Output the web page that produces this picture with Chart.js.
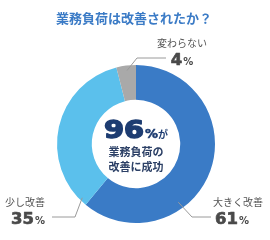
<!DOCTYPE html>
<html>
<head>
<meta charset="utf-8">
<script src="https://cdn.jsdelivr.net/npm/chart.js@4"></script>
<style>
  html, body { margin: 0; padding: 0; background: #fff; }
  #wrap { width: 270px; height: 240px; }
</style>
</head>
<body>
<div id="wrap"><canvas id="donut" width="270" height="240"></canvas></div>
<script>
    // chart data
    const titleText = '業務負荷は改善されたか？';
    const categories = ['大きく改善', '少し改善', '変わらない'];
    const shares = [61, 35, 4];
    const sliceColors = ['#3a7bc6', '#5bc0ec', '#a9a9a9'];
    const centerValue = '96';
    const centerLines = ['業務負荷の', '改善に成功'];

    const jp = '"Noto Sans CJK JP", "Noto Sans", sans-serif';
    const num = '"DejaVu Sans", Lato, sans-serif';

    // where each label sits, relative to the donut centre
    const labelSpots = [
        { tx: 77, ty: 58, align: 'left', anchorA: 144, anchorR: 72, elbow: [56, 73], end: [75, 73] },
        { tx: -91, ty: 58, align: 'right', anchorA: 225, anchorR: 76, elbow: [-61, 73], end: [-84, 73] },
        { tx: 46, ty: -101, align: 'center', anchorA: -7, anchorR: 74, elbow: [1, -86], end: [30, -86] }
    ];

    // text drawn a bit wider/heavier than the font, like the rounded digits of the original
    function wideWidth(c, text, font, sx) {
        c.font = font;
        return c.measureText(text).width * sx;
    }
    function drawWide(c, text, x, y, font, sx, heavy) {
        c.save();
        c.font = font;
        c.translate(x, y);
        c.scale(sx, 1);
        c.fillText(text, 0, 0);
        if (heavy) {
            c.strokeStyle = c.fillStyle;
            c.lineWidth = heavy;
            c.lineJoin = 'round';
            c.strokeText(text, 0, 0);
        }
        c.restore();
    }

    const labelPlugin = {
        id: 'calloutLabels',
        afterDraw(chart) {
            const c = chart.ctx;
            const arc = chart.getDatasetMeta(0).data[0];
            const cx = arc.x, cy = arc.y;

            // title
            c.save();
            c.fillStyle = '#3b7bc6';
            c.font = 'bold 13px ' + jp;
            c.textAlign = 'center';
            c.textBaseline = 'middle';
            c.fillText(titleText, 134, 18);

            // leader lines + labels
            labelSpots.forEach((s, i) => {
                const a = s.anchorA * Math.PI / 180;
                c.strokeStyle = '#9a9a9a';
                c.lineWidth = 1;
                c.beginPath();
                c.moveTo(cx + s.anchorR * Math.sin(a), cy - s.anchorR * Math.cos(a));
                c.lineTo(cx + s.elbow[0], cy + s.elbow[1]);
                c.lineTo(cx + s.end[0], cy + s.end[1]);
                c.stroke();

                const x = cx + s.tx, y = cy + s.ty;
                c.fillStyle = '#555';
                c.font = '10px ' + jp;
                c.textBaseline = 'middle';
                c.textAlign = s.align;
                c.fillText(categories[i], x, y);

                // value: big number + small %
                const big = String(shares[i]);
                const fBig = 'bold 15px ' + num;
                const fPct = 'bold 10px ' + num;
                const wb = wideWidth(c, big, fBig, 1.1);
                const wp = wideWidth(c, '%', fPct, 1);
                const w = wb + wp + 1;
                let x0 = x;
                if (s.align === 'center') x0 = x - w / 2;
                if (s.align === 'right') x0 = x - w;
                if (s.align === 'left') x0 = x + 2;
                c.textAlign = 'left';
                c.textBaseline = 'alphabetic';
                c.fillStyle = '#4a4a4a';
                drawWide(c, big, x0, y + 22, fBig, 1.1, 0.6);
                drawWide(c, '%', x0 + wb + 1, y + 22, fPct, 1);
            });

            // centre text
            c.fillStyle = '#1e3d72';
            c.textAlign = 'left';
            c.textBaseline = 'alphabetic';
            const f96 = 'bold 24px ' + num;
            const fP = 'bold 13px ' + num;
            const fGa = 'bold 10px ' + jp;
            const w96 = wideWidth(c, centerValue, f96, 1.2);
            const wPct = wideWidth(c, '%', fP, 1);
            const wGa = wideWidth(c, 'が', fGa, 1);
            let x = cx - (w96 + wPct + wGa + 1) / 2;
            drawWide(c, centerValue, x, cy - 6, f96, 1.2, 1.4);
            x += w96 + 1;
            drawWide(c, '%', x, cy - 6, fP, 1, 0.5);
            x += wPct;
            drawWide(c, 'が', x, cy - 6, fGa, 1);

            c.fillStyle = '#2c4066';
            c.font = 'bold 11px ' + jp;
            c.textAlign = 'center';
            c.textBaseline = 'middle';
            c.fillText(centerLines[0], cx, cy + 8);
            c.fillText(centerLines[1], cx, cy + 23);
            c.restore();
        }
    };

    const ctx = document.getElementById('donut').getContext('2d');
    const donut = new Chart(ctx, {
        type: 'doughnut',
        data: {
            labels: categories,
            datasets: [{
                data: shares,
                backgroundColor: sliceColors,
                borderWidth: 0
            }]
        },
        options: {
            responsive: false,
            animation: false,
            cutout: '56%',
            layout: {
                padding: { top: 65, bottom: 17, left: 57, right: 55 }
            },
            plugins: {
                legend: { display: false },
                tooltip: { enabled: false }
            }
        },
        plugins: [labelPlugin]
    });
</script>
</body>
</html>
